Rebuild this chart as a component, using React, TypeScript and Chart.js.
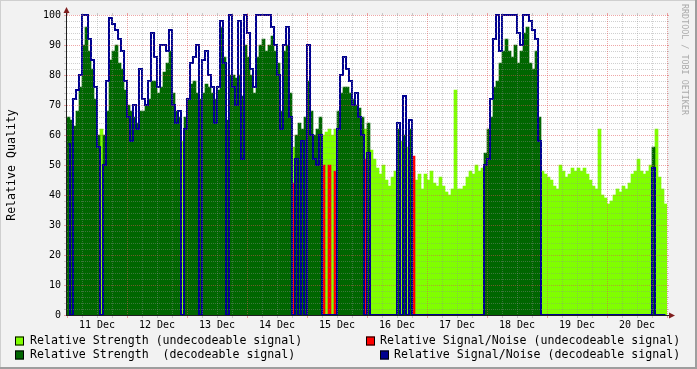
import { useEffect, useRef } from 'react';
import { Chart, registerables } from 'chart.js';

Chart.register(...registerables);

// One sample every 1.2 hours, starting 11 Dec 00:00 (hour 0) and ending 21 Dec 00:00 (hour 240)
const SAMPLE_HOURS = 1.2;

// Relative strength per sample
const strength = [
  66, 65, 63, 68, 76, 90, 96, 88, 82, 72, 60, 62, 60, 68, 85, 88, 90, 84, 82, 75,
  70, 68, 66, 64, 68, 68, 70, 72, 78, 78, 74, 76, 81, 84, 88, 74, 68, 66, 58, 66,
  72, 77, 78, 74, 72, 74, 77, 76, 74, 72, 75, 96, 86, 65, 80, 80, 79, 80, 73, 90,
  86, 80, 74, 86, 90, 92, 88, 90, 93, 88, 84, 68, 88, 90, 74, 56, 60, 64, 62, 66,
  78, 68, 60, 62, 66, 60, 61, 62, 60, 62, 68, 74, 76, 76, 74, 72, 70, 69, 66, 62,
  64, 55, 52, 49, 47, 50, 45, 43, 46, 48, 62, 58, 60, 56, 62, 48, 45, 47, 42, 47,
  45, 48, 44, 43, 46, 43, 41, 40, 42, 75, 42, 42, 43, 46, 48, 47, 50, 48, 49, 54,
  62, 66, 76, 78, 84, 88, 92, 88, 86, 90, 84, 88, 94, 96, 84, 82, 88, 66, 48, 47,
  46, 45, 43, 42, 50, 48, 46, 47, 49, 48, 49, 48, 49, 47, 45, 43, 42, 62, 40, 39,
  37, 38, 40, 42, 41, 43, 42, 44, 47, 48, 52, 48, 47, 48, 50, 56, 62, 46, 42, 37,
];

// 1 = decodeable signal, 0 = undecodeable signal
const decodeable = [
  1, 1, 1, 1, 1, 1, 1, 1, 1, 1, 1, 0, 1, 1, 1, 1, 1, 1, 1, 1,
  1, 1, 1, 1, 1, 1, 1, 1, 1, 1, 1, 1, 1, 1, 1, 1, 1, 1, 0, 1,
  1, 1, 1, 1, 1, 1, 1, 1, 1, 1, 1, 1, 1, 1, 1, 1, 1, 1, 1, 1,
  1, 1, 1, 1, 1, 1, 1, 1, 1, 1, 1, 1, 1, 1, 1, 0, 1, 1, 1, 1,
  1, 1, 1, 1, 1, 0, 0, 0, 0, 0, 1, 1, 1, 1, 1, 1, 1, 1, 1, 0,
  1, 0, 0, 0, 0, 0, 0, 0, 0, 0, 1, 0, 1, 0, 1, 0, 0, 0, 0, 0,
  0, 0, 0, 0, 0, 0, 0, 0, 0, 0, 0, 0, 0, 0, 0, 0, 0, 0, 0, 1,
  1, 1, 1, 1, 1, 1, 1, 1, 1, 1, 1, 1, 1, 1, 1, 1, 1, 1, 0, 0,
  0, 0, 0, 0, 0, 0, 0, 0, 0, 0, 0, 0, 0, 0, 0, 0, 0, 0, 0, 0,
  0, 0, 0, 0, 0, 0, 0, 0, 0, 0, 0, 0, 0, 0, 0, 1, 0, 0, 0, 0,
];

// Relative signal/noise for decodeable signal (0 where not decodeable / dropouts)
const snrDecodeable = [
  57, 0, 72, 75, 80, 100, 100, 92, 85, 76, 56, 0, 50, 78, 99, 97, 95, 92, 88, 78,
  66, 58, 70, 62, 82, 72, 70, 78, 94, 86, 76, 90, 90, 88, 95, 70, 64, 68, 0, 62,
  72, 84, 86, 90, 0, 85, 88, 80, 76, 64, 76, 98, 84, 0, 100, 76, 70, 98, 52, 100,
  94, 82, 76, 100, 100, 100, 100, 100, 96, 90, 80, 62, 90, 96, 66, 0, 52, 0, 58, 0,
  90, 60, 52, 50, 60, 0, 0, 0, 0, 0, 62, 80, 86, 82, 78, 70, 74, 66, 60, 0,
  54, 0, 0, 0, 0, 0, 0, 0, 0, 0, 64, 0, 73, 0, 65, 0, 0, 0, 0, 0,
  0, 0, 0, 0, 0, 0, 0, 0, 0, 0, 0, 0, 0, 0, 0, 0, 0, 0, 0, 50,
  52, 72, 92, 100, 88, 100, 100, 100, 100, 100, 94, 90, 100, 100, 98, 95, 92, 58, 0, 0,
  0, 0, 0, 0, 0, 0, 0, 0, 0, 0, 0, 0, 0, 0, 0, 0, 0, 0, 0, 0,
  0, 0, 0, 0, 0, 0, 0, 0, 0, 0, 0, 0, 0, 0, 0, 49, 0, 0, 0, 0,
];

// Relative signal/noise for undecodeable signal (sample index, value)
const redSamples = [75, 85, 87, 89, 99, 115];
const redValues = [44, 50, 50, 48, 52, 53];

const dayLabels = ['11 Dec', '12 Dec', '13 Dec', '14 Dec', '15 Dec', '16 Dec', '17 Dec', '18 Dec', '19 Dec', '20 Dec'];
const yTickValues = [0, 10, 20, 30, 40, 50, 60, 70, 80, 90, 100];

const LIGHT = '#80ff00';
const DARK = '#006600';
const RED = '#ff0000';
const BLUE = '#000090';

const legendItems = [
  { text: 'Relative Strength (undecodeable signal)', color: LIGHT, box: 15, textX: 30, row: 0 },
  { text: 'Relative Signal/Noise (undecodeable signal)', color: RED, box: 366, textX: 380, row: 0 },
  { text: 'Relative Strength  (decodeable signal)', color: DARK, box: 15, textX: 30, row: 1 },
  { text: 'Relative Signal/Noise (decodeable signal)', color: BLUE, box: 380, textX: 394, row: 1 },
];

const MONO = '"DejaVu Sans Mono", monospace';

const hourOf = (i: number) => i * SAMPLE_HOURS + SAMPLE_HOURS / 2;

const rrdPlugin = {
  id: 'rrdLook',
  beforeDraw(chart: any) {
    const { ctx, width, height, chartArea: a } = chart;
    ctx.save();
    ctx.fillStyle = '#f2f2f2';
    ctx.fillRect(0, 0, width, height);
    ctx.fillStyle = '#cfcfcf';
    ctx.fillRect(0, 0, width, 1);
    ctx.fillRect(0, 0, 1, height);
    ctx.fillStyle = '#9e9e9e';
    ctx.fillRect(0, height - 2, width, 2);
    ctx.fillRect(width - 2, 0, 2, height);
    ctx.fillStyle = '#ffffff';
    ctx.fillRect(a.left, a.top, a.right - a.left, a.bottom - a.top);
    ctx.restore();
  },
  afterDatasetsDraw(chart: any) {
    const { ctx, chartArea: a, scales } = chart;
    const xs = scales.x;
    const ys = scales.y;
    ctx.save();
    ctx.lineWidth = 1;
    const minor = 'rgba(143,143,143,0.42)';
    const major = 'rgba(222,80,80,0.5)';
    // horizontal grid
    for (let v = 0; v <= 100; v += 2) {
      const py = Math.round(ys.getPixelForValue(v)) + 0.5;
      const isMajor = v % 10 === 0;
      ctx.strokeStyle = isMajor ? major : minor;
      ctx.setLineDash([]);
      ctx.beginPath();
      ctx.moveTo(a.left - 3, py);
      ctx.lineTo(a.left, py);
      ctx.moveTo(a.right, py);
      ctx.lineTo(a.right + 2, py);
      ctx.stroke();
      if (v === 0) continue;
      ctx.setLineDash([1, 1]);
      ctx.beginPath();
      ctx.moveTo(a.left, py);
      ctx.lineTo(a.right, py);
      ctx.stroke();
    }
    // vertical grid
    for (let h = 0; h <= 240; h += 6) {
      const px = Math.round(xs.getPixelForValue(h)) + 0.5;
      const isMajor = h % 24 === 0;
      ctx.strokeStyle = isMajor ? major : minor;
      ctx.setLineDash([]);
      ctx.beginPath();
      ctx.moveTo(px, a.bottom);
      ctx.lineTo(px, a.bottom + 3);
      ctx.moveTo(px, a.top - 2);
      ctx.lineTo(px, a.top);
      ctx.stroke();
      if (h === 0) continue;
      ctx.setLineDash([1, 1]);
      ctx.beginPath();
      ctx.moveTo(px, a.top);
      ctx.lineTo(px, a.bottom);
      ctx.stroke();
    }
    ctx.setLineDash([]);
    // axes
    ctx.strokeStyle = '#1f1f1f';
    ctx.beginPath();
    ctx.moveTo(a.left - 0.5, a.bottom + 0.5);
    ctx.lineTo(a.left - 0.5, a.top - 3);
    ctx.moveTo(a.left - 1, a.bottom + 0.5);
    ctx.lineTo(a.right + 3, a.bottom + 0.5);
    ctx.stroke();
    // arrows
    ctx.fillStyle = '#801f1f';
    ctx.beginPath();
    ctx.moveTo(a.left - 0.5, a.top - 8);
    ctx.lineTo(a.left - 3.5, a.top - 2);
    ctx.lineTo(a.left + 2.5, a.top - 2);
    ctx.closePath();
    ctx.fill();
    ctx.beginPath();
    ctx.moveTo(a.right + 8, a.bottom + 0.5);
    ctx.lineTo(a.right + 2, a.bottom - 2.5);
    ctx.lineTo(a.right + 2, a.bottom + 3.5);
    ctx.closePath();
    ctx.fill();
    ctx.restore();
  },
  afterDraw(chart: any) {
    const { ctx, chartArea: a, scales } = chart;
    const xs = scales.x;
    const ys = scales.y;
    ctx.save();
    ctx.fillStyle = '#000';
    // y tick labels
    ctx.font = `10px ${MONO}`;
    ctx.textAlign = 'right';
    ctx.textBaseline = 'middle';
    yTickValues.forEach((v) => {
      ctx.fillText(String(v), a.left - 6, ys.getPixelForValue(v) + 0.5);
    });
    // x labels at noon
    ctx.textAlign = 'center';
    ctx.textBaseline = 'top';
    dayLabels.forEach((lab, d) => {
      ctx.fillText(lab, xs.getPixelForValue(d * 24 + 12), a.bottom + 5);
    });
    // y title
    ctx.font = `11.6px ${MONO}`;
    ctx.save();
    ctx.translate(12, (a.top + a.bottom) / 2);
    ctx.rotate(-Math.PI / 2);
    ctx.textAlign = 'center';
    ctx.textBaseline = 'middle';
    ctx.fillText('Relative Quality', 0, 0);
    ctx.restore();
    // watermark
    ctx.save();
    ctx.font = `8.4px ${MONO}`;
    ctx.fillStyle = 'rgba(140,140,140,0.7)';
    ctx.translate(684, 4);
    ctx.rotate(Math.PI / 2);
    ctx.textAlign = 'left';
    ctx.textBaseline = 'middle';
    ctx.fillText('RRDTOOL / TOBI OETIKER', 0, 0);
    ctx.restore();
    // legend
    ctx.font = `11.6px ${MONO}`;
    ctx.textAlign = 'left';
    ctx.textBaseline = 'middle';
    legendItems.forEach((it) => {
      const cy = 341 + it.row * 14;
      ctx.fillStyle = it.color;
      ctx.fillRect(it.box, cy - 4.5, 9, 9);
      ctx.strokeStyle = '#000';
      ctx.lineWidth = 1;
      ctx.strokeRect(it.box + 0.5, cy - 4.5 + 0.5, 8, 8);
      ctx.fillStyle = '#000';
      ctx.fillText(it.text, it.textX, cy);
    });
    ctx.restore();
  },
};

export default function App() {
  const ref = useRef<HTMLCanvasElement>(null);
  useEffect(() => {
    document.body.style.margin = '0';
    const canvas = ref.current;
    if (!canvas) return;
    const lightData = strength.map((v, i) => ({ x: hourOf(i), y: decodeable[i] ? null : v }));
    const darkData = strength.map((v, i) => ({ x: hourOf(i), y: decodeable[i] ? v : null }));
    const redData = strength.map((_, i) => {
      const k = redSamples.indexOf(i);
      return { x: hourOf(i), y: k >= 0 ? redValues[k] : null };
    });
    const snrData = snrDecodeable.map((v, i) => ({ x: hourOf(i), y: v }));
    const barCommon = {
      type: 'bar' as const,
      barPercentage: 1,
      categoryPercentage: 1,
      grouped: false,
      borderWidth: 0,
    };
    const chart = new Chart(canvas, {
      type: 'bar',
      data: {
        datasets: [
          {
            type: 'line',
            label: 'Relative Signal/Noise (decodeable signal)',
            data: snrData as any,
            borderColor: BLUE,
            borderWidth: 2,
            pointRadius: 0,
            fill: false,
            stepped: 'middle',
            order: 0,
            clip: { left: 0, right: 0, top: 2, bottom: 0 } as any,
          },
          {
            ...barCommon,
            label: 'Relative Signal/Noise (undecodeable signal)',
            data: redData as any,
            backgroundColor: RED,
            order: 1,
          },
          {
            ...barCommon,
            label: 'Relative Strength  (decodeable signal)',
            data: darkData as any,
            backgroundColor: DARK,
            order: 2,
          },
          {
            ...barCommon,
            label: 'Relative Strength (undecodeable signal)',
            data: lightData as any,
            backgroundColor: LIGHT,
            order: 3,
          },
        ] as any,
      },
      options: {
        responsive: false,
        animation: false,
        devicePixelRatio: 1,
        events: [],
        layout: { padding: { left: 67, top: 15, right: 30, bottom: 54 } },
        plugins: { legend: { display: false }, tooltip: { enabled: false } },
        scales: {
          x: { type: 'linear', min: 0, max: 240, offset: false, display: false },
          y: { type: 'linear', min: 0, max: 100, display: false },
        },
      },
      plugins: [rrdPlugin],
    });
    return () => chart.destroy();
  }, []);
  return <canvas ref={ref} width={697} height={369} style={{ display: 'block', width: '697px', height: '369px' }} />;
}
